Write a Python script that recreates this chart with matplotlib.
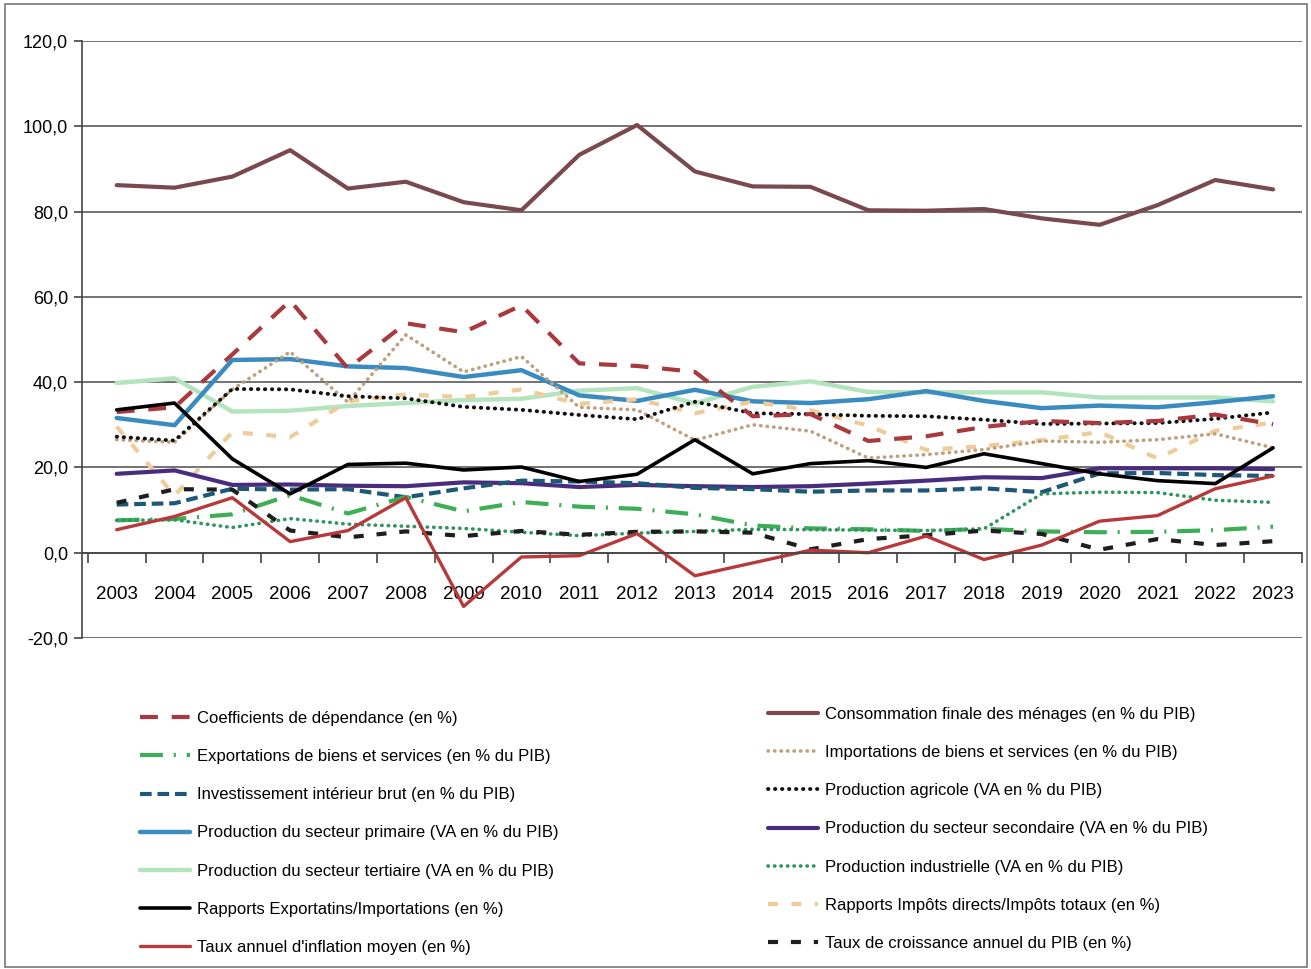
import matplotlib
matplotlib.use('Agg')
import matplotlib.pyplot as plt
from matplotlib.patches import Rectangle
from matplotlib.ticker import FuncFormatter, MultipleLocator, FixedLocator
import numpy as np

plt.rcParams['font.family'] = ['Liberation Sans', 'DejaVu Sans']

years = [str(y) for y in range(2003, 2024)]

# values (en %)
coef_dependance = [33.0, 34.1, 46.5, 59.1, 43.2, 53.8, 51.7, 58.0, 44.4, 43.8, 42.4,
                   32.0, 32.5, 26.2, 27.3, 29.5, 30.9, 30.4, 30.9, 32.4, 30.1]
consommation = [86.2, 85.6, 88.2, 94.4, 85.4, 87.0, 82.2, 80.3, 93.3, 100.3, 89.4,
                85.9, 85.8, 80.3, 80.2, 80.6, 78.4, 76.9, 81.5, 87.4, 85.2]
exportations = [7.6, 7.9, 9.0, 13.5, 9.2, 13.1, 9.7, 11.9, 10.8, 10.3, 9.0,
                6.4, 5.7, 5.5, 5.1, 5.6, 5.0, 4.8, 4.9, 5.3, 6.1]
importations = [26.5, 25.9, 38.3, 47.1, 35.3, 51.1, 42.4, 46.0, 34.1, 33.5, 26.4,
                30.0, 28.5, 22.2, 23.0, 24.2, 26.2, 25.9, 26.5, 27.9, 24.6]
investissement = [11.3, 11.6, 15.0, 14.8, 14.9, 13.0, 15.1, 16.9, 16.7, 16.3, 15.2,
                  14.9, 14.3, 14.6, 14.6, 15.1, 14.2, 18.6, 18.7, 18.2, 18.0]
agricole = [27.2, 26.3, 38.4, 38.3, 36.7, 36.2, 34.2, 33.5, 32.3, 31.3, 35.4,
            32.7, 32.5, 32.1, 32.0, 31.2, 30.2, 30.3, 30.4, 31.4, 32.9]
primaire = [31.6, 29.9, 45.2, 45.4, 43.7, 43.3, 41.2, 42.8, 36.9, 35.6, 38.2,
            35.5, 35.1, 36.0, 37.9, 35.6, 33.9, 34.5, 34.1, 35.3, 36.7]
secondaire = [18.5, 19.3, 15.9, 16.0, 15.7, 15.6, 16.5, 16.3, 15.4, 15.9, 15.6,
              15.4, 15.6, 16.2, 16.9, 17.7, 17.5, 19.8, 19.8, 19.8, 19.6]
tertiaire = [39.8, 40.9, 33.1, 33.3, 34.4, 35.1, 35.8, 36.1, 38.0, 38.6, 35.0,
             38.9, 40.2, 37.7, 37.6, 37.6, 37.6, 36.4, 36.4, 36.4, 35.5]
industrielle = [7.6, 7.7, 5.9, 8.0, 6.7, 6.2, 5.7, 4.8, 4.0, 4.6, 5.0,
                5.5, 5.4, 5.3, 5.2, 5.6, 13.8, 14.2, 14.1, 12.3, 11.8]
rapports_exp_imp = [33.5, 35.1, 22.0, 13.8, 20.7, 21.0, 19.4, 20.1, 16.7, 18.4, 26.5,
                    18.5, 20.9, 21.6, 20.0, 23.2, 20.9, 18.5, 16.9, 16.2, 24.6]
rapports_impots = [29.6, 13.4, 28.3, 27.1, 35.5, 37.1, 36.5, 38.3, 34.9, 36.0, 32.7,
                   35.4, 33.4, 29.8, 24.1, 25.0, 26.4, 28.3, 22.1, 28.6, 30.5]
inflation = [5.4, 8.5, 12.9, 2.6, 5.2, 12.9, -12.6, -1.0, -0.7, 4.5, -5.4,
             -2.4, 0.6, 0.0, 3.9, -1.6, 1.8, 7.4, 8.7, 15.0, 18.0]
croissance = [11.7, 14.9, 14.8, 5.2, 3.6, 5.0, 3.9, 5.1, 4.2, 4.9, 5.0,
              4.7, 0.8, 3.2, 4.1, 5.2, 4.4, 0.7, 3.2, 1.8, 2.7]

# (key, label, data, color, linewidth, dashes) ; dashes None = solid, 'dot' = round dots
series = [
    ('tert', "Production du secteur tertiaire (VA en % du PIB)", tertiaire, '#B4E4BE', 3.2, None),
    ('prim', "Production du secteur primaire (VA en % du PIB)", primaire, '#3A8CC0', 3.2, None),
    ('impt', "Rapports Impôts directs/Impôts totaux (en %)", rapports_impots, '#EFCB9A', 3.0, (2.4, 3.2)),
    ('impo', "Importations de biens et services (en % du PIB)", importations, '#BFA07C', 2.6, 'dot'),
    ('agri', "Production agricole (VA en % du PIB)", agricole, '#111111', 2.8, 'dot'),
    ('coef', "Coefficients de dépendance (en %)", coef_dependance, '#A8393D', 3.0, (4.3, 3.3)),
    ('seco', "Production du secteur secondaire (VA en % du PIB)", secondaire, '#4A2C7C', 3.0, None),
    ('inve', "Investissement intérieur brut (en % du PIB)", investissement, '#1E5878', 3.0, (2.8, 1.4)),
    ('expo', "Exportations de biens et services (en % du PIB)", exportations, '#3DAE55', 3.0, (5.5, 2.6, 0.5, 2.6)),
    ('indu', "Production industrielle (VA en % du PIB)", industrielle, '#2E9560', 2.6, 'dot'),
    ('croi', "Taux de croissance annuel du PIB (en %)", croissance, '#1E1E1E', 3.0, (2.4, 3.1)),
    ('cons', "Consommation finale des ménages (en % du PIB)", consommation, '#7A4950', 3.0, None),
    ('rexp', "Rapports Exportatins/Importations (en %)", rapports_exp_imp, '#000000', 2.6, None),
    ('infl', "Taux annuel d'inflation moyen (en %)", inflation, '#B8393A', 2.4, None),
]

fig = plt.figure(figsize=(13.11, 9.69), dpi=100)
ax = fig.add_axes([82 / 1311, 1 - 638 / 969, 1220 / 1311, 597 / 969])

x = np.arange(len(years))
lines = {}
for key, label, data, color, lw, dashes in series:
    if dashes is None:
        ln, = ax.plot(x, data, color=color, lw=lw, label=label, solid_capstyle='round')
    elif dashes == 'dot':
        ln, = ax.plot(x, data, color=color, lw=lw, label=label,
                      dashes=(0.1, 1.7), dash_capstyle='round')
    else:
        ln, = ax.plot(x, data, color=color, lw=lw, label=label, dashes=dashes)
    lines[key] = ln

ax.set_xlim(-0.6, 20.5)
ax.set_ylim(-20, 120)

ax.yaxis.set_major_locator(MultipleLocator(20))
ax.yaxis.set_major_formatter(FuncFormatter(lambda v, p: f"{v:.1f}".replace('.', ',')))
ax.grid(axis='y', color='#5a5a5a', lw=1.2)
ax.set_axisbelow(True)

ax.set_xticks(x)
ax.set_xticklabels(years)
ax.xaxis.set_minor_locator(FixedLocator(np.arange(-0.5, 20.6, 1.0)))
ax.tick_params(axis='x', which='major', length=0, pad=24, labelsize=13.5)
ax.tick_params(axis='x', which='minor', length=7, width=1.2, direction='out', color='#444')
ax.tick_params(axis='y', length=6, width=1.2, color='#444', labelsize=13, pad=4)

ax.spines['bottom'].set_position(('data', 0))
ax.spines['bottom'].set_color('#444')
ax.spines['bottom'].set_linewidth(1.2)
ax.spines['left'].set_color('#444')
ax.spines['left'].set_linewidth(1.2)
ax.spines['top'].set_visible(False)
ax.spines['right'].set_visible(False)

left_keys = ['coef', 'expo', 'inve', 'prim', 'tert', 'rexp', 'infl']
right_keys = ['cons', 'impo', 'agri', 'seco', 'indu', 'impt', 'croi']
leg_kw = dict(loc='upper left', frameon=False, fontsize=12, handlelength=3.0,
              handletextpad=0.4, labelspacing=1.39, borderpad=0, borderaxespad=0)
fig.legend(handles=[lines[k] for k in left_keys], bbox_to_anchor=(140 / 1311, 1 - 711 / 969), **leg_kw)
fig.legend(handles=[lines[k] for k in right_keys], bbox_to_anchor=(768 / 1311, 1 - 707 / 969), **leg_kw)

fig.add_artist(Rectangle((0.004, 0.002), 0.993, 0.994, transform=fig.transFigure,
                         fill=False, edgecolor='#777777', lw=1.2))

fig.savefig('out.png', dpi=100)
